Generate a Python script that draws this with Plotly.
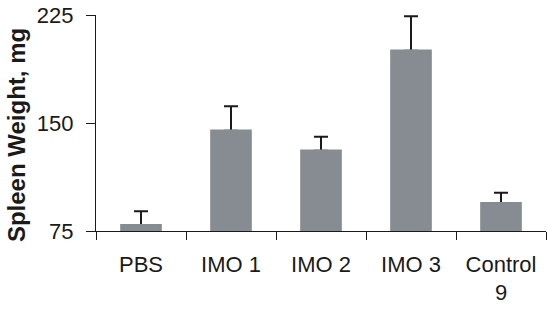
import plotly.graph_objects as go

categories = ["PBS", "IMO 1", "IMO 2", "IMO 3", "Control<br>9"]
spleen_weight = [79, 144.7, 130.8, 200.2, 94.2]
error_up = [9.7, 17, 9.7, 24, 7.4]
error_down = [0, 0, 0, 0, 0]
y_ticks = [75, 150, 225]
y_title = "Spleen Weight, mg"

bar_color = "#878c92"
ink = "#1a1a1a"

fig = go.Figure()
fig.add_trace(go.Bar(
    x=categories,
    y=spleen_weight,
    marker=dict(color=bar_color, line=dict(width=0)),
    error_y=dict(type="data", symmetric=False, array=error_up, arrayminus=error_down,
                 color=ink, thickness=2, width=7),
))
# identical bars on top hide the lower cap of each error bar
fig.add_trace(go.Bar(
    x=categories,
    y=spleen_weight,
    marker=dict(color=bar_color, line=dict(width=2.5, color=bar_color)),
    hoverinfo="skip",
))

font_family = "Liberation Sans, Arial, Helvetica, sans-serif"
fig.update_layout(
    width=547, height=310,
    margin=dict(l=96, r=1, t=15, b=79, autoexpand=False),
    plot_bgcolor="white", paper_bgcolor="white",
    barmode="overlay",
    bargap=0.565,
    showlegend=False,
    font=dict(family=font_family, size=22, color=ink),
)
fig.update_xaxes(
    type="category",
    automargin=False,
    showline=True, linecolor=ink, linewidth=1.2,
    ticks="outside", ticklen=8, tickcolor=ink, tickwidth=1.2,
    tickson="boundaries",
    ticklabelstandoff=13,
    ticklabeloverflow="allow",
    showgrid=False,
    tickfont=dict(size=22, color=ink),
)
fig.update_yaxes(
    range=[75, 225],
    automargin=False,
    tickvals=y_ticks,
    showline=True, linecolor=ink, linewidth=1.2,
    ticks="outside", ticklen=9, tickcolor=ink, tickwidth=1.2,
    ticklabelstandoff=8,
    ticklabeloverflow="allow",
    showgrid=False, zeroline=False,
    tickfont=dict(size=22, color=ink),
)
fig.add_annotation(
    text="<b>" + y_title + "</b>",
    xref="paper", yref="paper", x=0, y=0.444,
    xshift=-80, xanchor="center", yanchor="middle",
    textangle=-90, showarrow=False,
    font=dict(size=24, color=ink, family=font_family),
)

fig.write_html("out.html", config={"displayModeBar": False},
               post_script="document.body.style.margin='0';")
